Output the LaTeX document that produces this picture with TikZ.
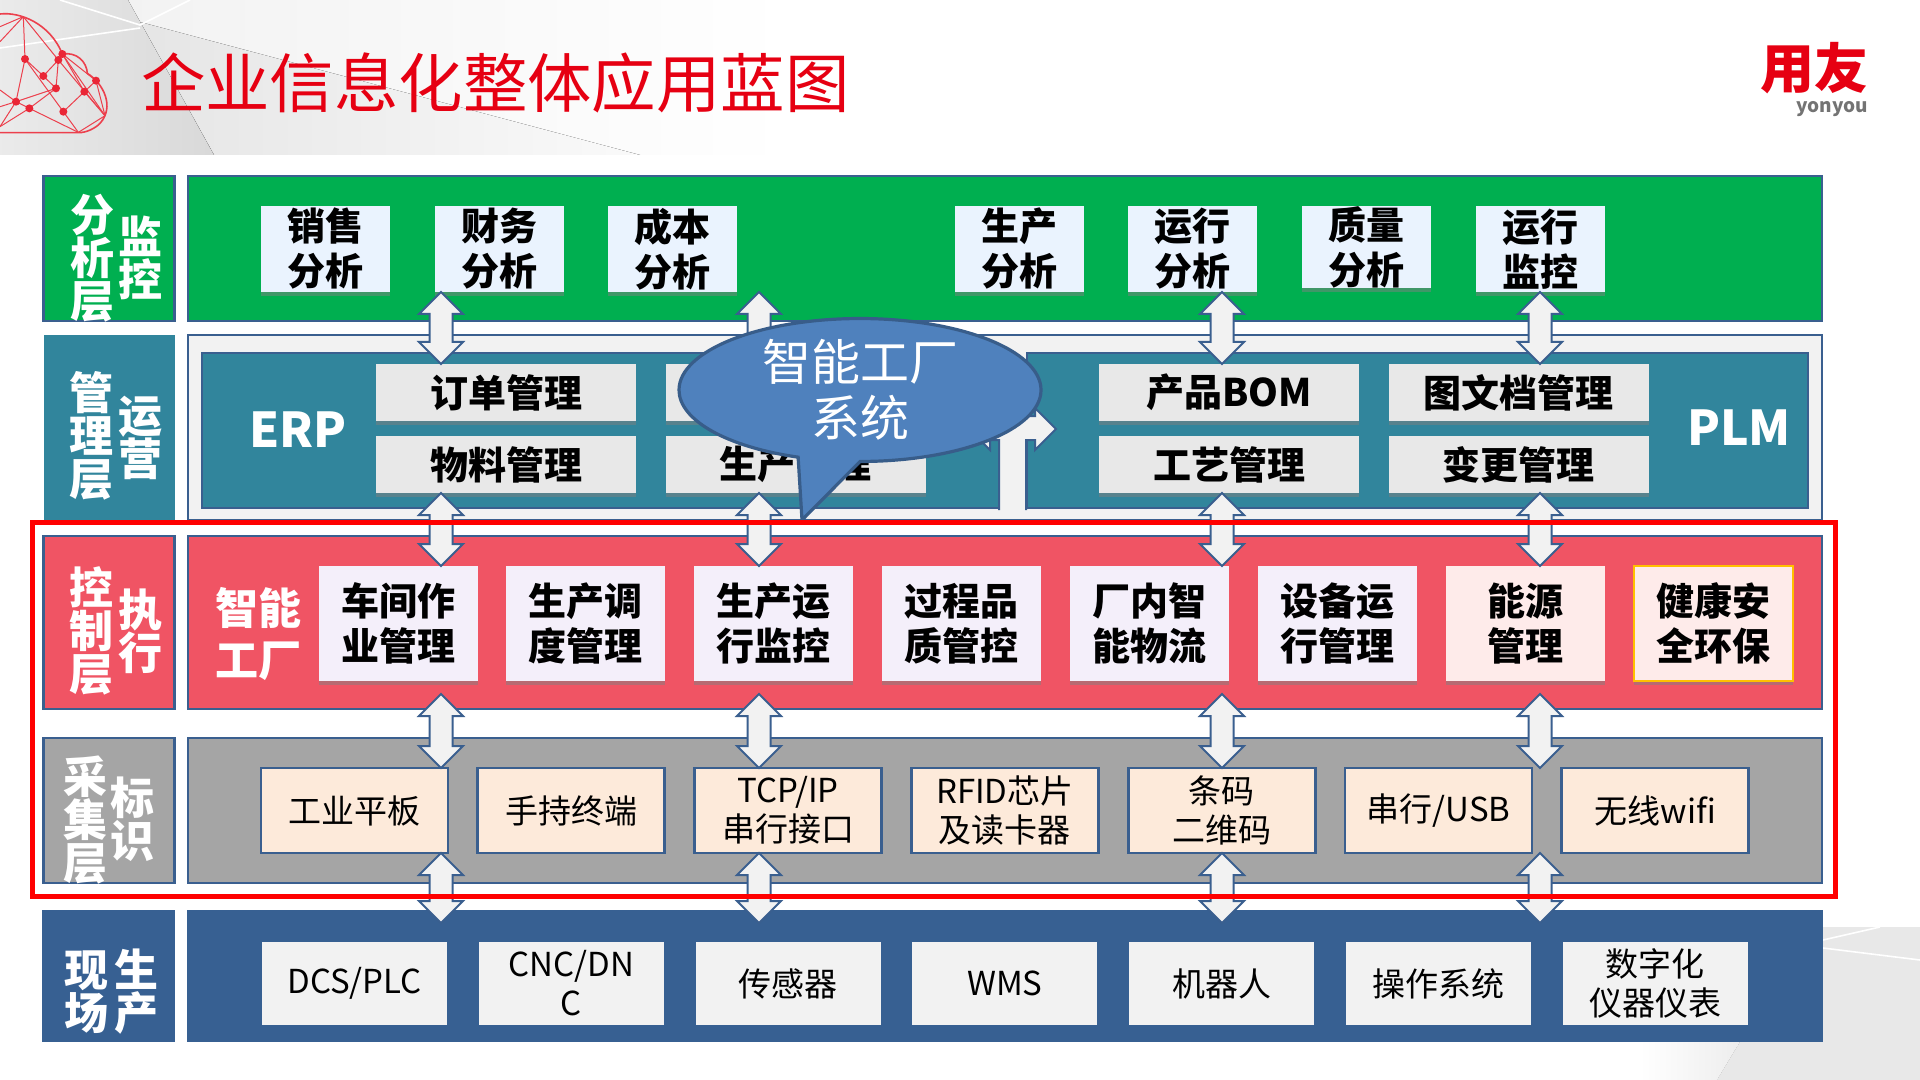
\documentclass[tikz,border=0pt]{standalone}
\usepackage{fontspec}
\setmainfont{Noto Sans CJK SC}
\usepackage{tikz}
\usetikzlibrary{calc,shadows,shapes.callouts}

\definecolor{bluelin}{HTML}{3A5F8F}
\definecolor{bluerow}{HTML}{376092}
\definecolor{greenrow}{HTML}{00AF50}
\definecolor{tealrow}{HTML}{31859C}
\definecolor{redrow}{HTML}{F05464}
\definecolor{grayrow}{HTML}{A5A5A5}
\definecolor{lightbox}{HTML}{F2F2F2}
\definecolor{logored}{HTML}{E60012}
\definecolor{bubblefill}{HTML}{4F81BD}
\definecolor{bubbleline}{HTML}{385D8A}
\definecolor{tallfill}{HTML}{EAF3FE}
\definecolor{cellfill}{HTML}{F4EFFA}
\definecolor{warmfill}{HTML}{FEEBEA}
\definecolor{inputfill}{HTML}{FDEADA}
\definecolor{goldline}{HTML}{FFC000}

\newcommand{\updown}[3]{\draw[twoway] (#1 |- #2) -- ++(22,22) -- ++(-10.5,0) -- ($(#1 |- #3)+(11.5,-22)$) -- ++(10.5,0) -- (#1 |- #3) -- ++(-22,-22) -- ++(10.5,0) -- ($(#1 |- #2)+(-11.5,22)$) -- ++(-10.5,0) -- cycle;}

\begin{document}
\begin{tikzpicture}[x=.5pt, y=-.5pt,
	every node/.style = {inner sep=0pt, outer sep=0pt, align=center},
	panel/.style = {draw=bluelin, line width=1.2pt, minimum width=817pt},
	side/.style = {draw=bluelin, line width=1.2pt, minimum width=65.5pt},
	sidetext/.style = {text=white, font=\bfseries\fontsize{22}{21.5}\selectfont},
	shade/.style = {drop shadow={shadow xshift=0pt, shadow yshift=-2pt, opacity=.5}},
	tall/.style = {shade, fill=tallfill, minimum width=64.5pt, minimum height=43pt, node distance=86.8pt, font=\bfseries\fontsize{19}{22.5}\selectfont},
	wide/.style = {shade, fill=black!9, minimum width=130pt, minimum height=28.5pt, font=\bfseries\fontsize{19}{22.5}\selectfont},
	cell/.style = {shade, fill=cellfill, minimum width=79.5pt, minimum height=57.5pt, node distance=93.95pt, font=\bfseries\fontsize{19}{22.5}\selectfont},
	input/.style = {draw=bluelin, line width=1.4pt, fill=inputfill, minimum width=93.5pt, minimum height=42.5pt, node distance=108.4pt, font=\fontsize{16.5}{19.5}\selectfont},
	device/.style = {fill=lightbox, minimum width=92.5pt, minimum height=41.5pt, node distance=108.4pt, font=\fontsize{16.5}{19.5}\selectfont},
	twoway/.style = {draw=bluelin, fill=lightbox, line width=1pt, line join=miter},
	wire/.style = {draw=logored!75, line width=.5pt}]

\useasboundingbox (0,0) rectangle (1920,1080);
\fill[white] (0,0) rectangle (1920,1080);

% title band
\fill[left color=black!5, right color=white] (128,0) rectangle (790,155);
\fill[left color=black!10, right color=black!2] (140,22) -- (640,155) -- (214,155) -- cycle;
\fill[left color=black!8, right color=black!15] (0,0) -- (128,0) -- (214,155) -- (0,155) -- cycle;
\draw[white, line width=.8pt] (60,0) -- (140,25) -- (190,0);
\draw[white, line width=.8pt] (0,48) -- (140,28);
% corner facets
\fill[left color=white, right color=black!7] (1640,1042) -- (1740,1042) -- (1717,1080) -- (1640,1080) -- cycle;
\fill[black!9] (1823,927) -- (1920,927) -- (1920,1080) -- (1717,1080) -- (1740,1042) -- (1823,1042) -- cycle;
\draw[white, line width=.8pt] (1823,948) -- (1920,960);
\draw[white, line width=.8pt] (1823,940) -- (1880,927);

% cloud mark
\begin{scope}[x=.1667pt, y=-.1667pt]
	\coordinate (ca) at (75,177);
	\coordinate (cb) at (175,180);
	\coordinate (cc) at (187,162);
	\coordinate (cd) at (130,228);
	\coordinate (ce) at (168,265);
	\coordinate (cf) at (48,305);
	\coordinate (cg) at (88,325);
	\coordinate (ch) at (190,335);
	\coordinate (ci) at (253,275);
	\coordinate (cj) at (288,242);
	\coordinate (ck) at (315,347);
	\coordinate (cl) at (235,397);
	\coordinate (cm) at (70,50);
	\coordinate (cn) at (0,380);
	\coordinate (co) at (0,125);
	\coordinate (cp) at (0,80);
	\coordinate (cq) at (0,270);
	\coordinate (cr) at (0,320);
	\draw[wire, line width=.8pt] (0,42) .. controls (60,35) and (150,70) .. (187,162) .. controls (230,155) and (260,185) .. (262,220) .. controls (310,250) and (345,320) .. (300,370) .. controls (285,385) and (260,398) .. (235,398) -- (0,398);
	\foreach \a/\b in {cm/ca,cm/cb,cm/co,cm/cp,ca/cd,cd/cb,ca/cf,ca/ch,cd/ce,ce/cf,cf/cg,cg/cl,ch/cl,ch/ci,ci/cj,cc/ck,cb/ck,cc/cj,cj/ck,ci/ck,cl/ck,cb/ce,cf/cq,cf/cr,cf/cn,cg/cn,ce/cg,cc/ci}
		\draw[wire] (\a) -- (\b);
	\foreach \a in {ca,cb,cc,cd,ce,cf,cg,ch,ci,cj}
		\fill[logored!85] (\a) circle (2pt);
\end{scope}

\node[anchor=west, text=logored, font=\fontsize{32.2}{36}\selectfont] (title) at (141,83) {企业信息化整体应用蓝图};
\node[text=logored, font=\bfseries\fontsize{27}{30}\selectfont] (logo) at (1814,68) {用友};
\node[text=black!55, font=\bfseries\fontsize{9.5}{11}\selectfont] (brand) at (1832,109) {yonyou};

% layers
\node[side, fill=greenrow, minimum height=72.5pt] (layer1) at (109,248.5) {};
\node[panel, fill=greenrow, minimum height=72.5pt] (row1) at (1005,248.5) {};
\node[fill=tealrow, minimum width=65.5pt, minimum height=92.5pt] (layer2) at (109,427.5) {};
\node[panel, line width=.8pt, fill=lightbox, minimum height=92.5pt] (row2) at (1005,427.5) {};
\node[side, fill=redrow, minimum height=86.5pt] (layer3) at (109,622.5) {};
\node[panel, fill=redrow, minimum height=86.5pt] (row3) at (1005,622.5) {};
\node[side, fill=grayrow, minimum height=72.5pt] (layer4) at (109,810.5) {};
\node[panel, fill=grayrow, minimum height=72.5pt] (row4) at (1005,810.5) {};
\node[fill=bluerow, minimum width=66.5pt, minimum height=66pt] (layer5) at (108.5,976) {};
\node[fill=bluerow, minimum width=818pt, minimum height=66pt] (row5) at (1005,976) {};

% layer names
\node[sidetext] (name1a) at (92,258) {分\\析\\层};
\node[sidetext] (name1b) at (140,258) {监\\控};
\node[sidetext] (name2a) at (91,436) {管\\理\\层};
\node[sidetext] (name2b) at (140,438) {运\\营};
\node[sidetext] (name3a) at (91,631) {控\\制\\层};
\node[sidetext] (name3b) at (140,631) {执\\行};
\node[sidetext] (name4a) at (85,820) {采\\集\\层};
\node[sidetext] (name4b) at (132,819) {标\\识};
\node[sidetext] (name5a) at (86,992) {现\\场};
\node[sidetext] (name5b) at (136,992) {生\\产};

% analysis row
\node[tall] (sales) at (325.5,249) {销售\\分析};
\node[tall] (finance) [right of=sales] {财务\\分析};
\node[tall] (cost) [right of=finance] {成本\\分析};
\node[tall] (output) at (1019,249) {生产\\分析};
\node[tall] (running) [right of=output] {运行\\分析};
\node[tall, minimum height=41pt, yshift=1pt] (quality) [right of=running] {质量\\分析};
\node[tall] (monitor) at (1540,249) {运行\\监控};

% ERP and PLM
\node[draw=bluelin, line width=1.2pt, fill=tealrow, minimum width=398.5pt, minimum height=77.5pt] (erp) at (600.5,430.5) {};
\node[draw=bluelin, line width=1.2pt, fill=tealrow, minimum width=390.5pt, minimum height=77.5pt] (plm) at (1417.5,430.5) {};
\node[text=white, font=\bfseries\fontsize{24}{30}\selectfont] (erpname) at (298,430) {ERP};
\node[text=white, font=\bfseries\fontsize{24}{30}\selectfont] (plmname) at (1739,428) {PLM};
\node[wide] (orders) at (506,392.5) {订单管理};
\node[wide] (material) [below of=orders, node distance=36pt] {物料管理};
\node[wide] (hidden) at (795.5,392.5) {};
\node[wide] (plan) [below of=hidden, node distance=36pt] {生产管理};
\node[wide] (bom) at (1229,392.5) {产品BOM};
\node[wide] (craft) [below of=bom, node distance=36pt] {工艺管理};
\node[wide] (docs) at (1518.5,392.5) {图文档管理};
\node[wide] (change) [below of=docs, node distance=36pt] {变更管理};

% smart factory row
\node[text=white, font=\bfseries\fontsize{21.5}{26}\selectfont] (smart) at (258,634) {智能\\工厂};
\node[cell] (shop) at (398,623.5) {车间作\\业管理};
\node[cell] (dispatch) [right of=shop] {生产调\\度管理};
\node[cell] (watch) [right of=dispatch] {生产运\\行监控};
\node[cell] (process) [right of=watch] {过程品\\质管控};
\node[cell] (logistic) [right of=process] {厂内智\\能物流};
\node[cell] (machine) [right of=logistic] {设备运\\行管理};
\node[cell, fill=warmfill] (energy) [right of=machine] {能源\\管理};
\node[cell, fill=warmfill, draw=goldline, line width=1pt] (safety) [right of=energy] {健康安\\全环保};

% acquisition row
\node[input] (tablet) at (354.5,810.5) {工业平板};
\node[input] (handheld) [right of=tablet] {手持终端};
\node[input] (tcp) [right of=handheld] {TCP/IP\\串行接口};
\node[input] (rfid) [right of=tcp] {RFID芯片\\及读卡器};
\node[input] (barcode) [right of=rfid] {条码\\二维码};
\node[input] (serial) [right of=barcode] {串行/USB};
\node[input] (wifi) [right of=serial] {无线wifi};

% field row
\node[device] (dcs) at (354.5,983.5) {DCS/PLC};
\node[device] (cnc) [right of=dcs] {CNC/DN\\C};
\node[device] (sensor) [right of=cnc] {传感器};
\node[device] (wms) [right of=sensor] {WMS};
\node[device] (robot) [right of=wms] {机器人};
\node[device] (system) [right of=robot] {操作系统};
\node[device] (meter) [right of=system] {数字化\\仪器仪表};

% arrows between layers
\coordinate (col1) at (441,0);
\coordinate (col2) at (759,0);
\coordinate (col3) at (1222,0);
\coordinate (col4) at (1540,0);
\coordinate (gap3) at (0,694);
\coordinate (gap5) at (0,923);
\updown{col1}{finance.south}{orders.north}
\updown{col2}{cost.south}{hidden.north}
\updown{col3}{running.south}{bom.north}
\updown{col4}{monitor.south}{docs.north}
\updown{col1}{material.south}{shop.north}
\updown{col2}{plan.south}{watch.north}
\updown{col3}{craft.south}{logistic.north}
\updown{col4}{change.south}{energy.north}
\updown{col1}{gap3}{tablet.north}
\updown{col2}{gap3}{tcp.north}
\updown{col3}{gap3}{barcode.north}
\updown{col4}{gap3}{serial.north}
\updown{col1}{tablet.south}{gap5}
\updown{col2}{tcp.south}{gap5}
\updown{col3}{barcode.south}{gap5}
\updown{col4}{serial.south}{gap5}

% link between ERP and PLM
\draw[twoway] (999,510) -- (999,440) -- (990,440) -- (990,450) -- (969,429) -- (990,408) -- (990,416) -- (1035,416) -- (1035,408) -- (1056,429) -- (1035,450) -- (1035,440) -- (1026,440) -- (1026,510);

\node[ellipse callout, draw=bubbleline, line width=1.6pt, fill=bubblefill, minimum width=181pt, minimum height=66pt, callout absolute pointer={(802,520)}, callout pointer arc=20, text=white, font=\fontsize{24.5}{28}\selectfont] (bubble) at (860,390) {智能工厂\\系统};

\node[draw=red, line width=2.5pt, minimum width=901.5pt, minimum height=187.25pt] (frame) at (933.5,709.25) {};
\end{tikzpicture}
\end{document}
